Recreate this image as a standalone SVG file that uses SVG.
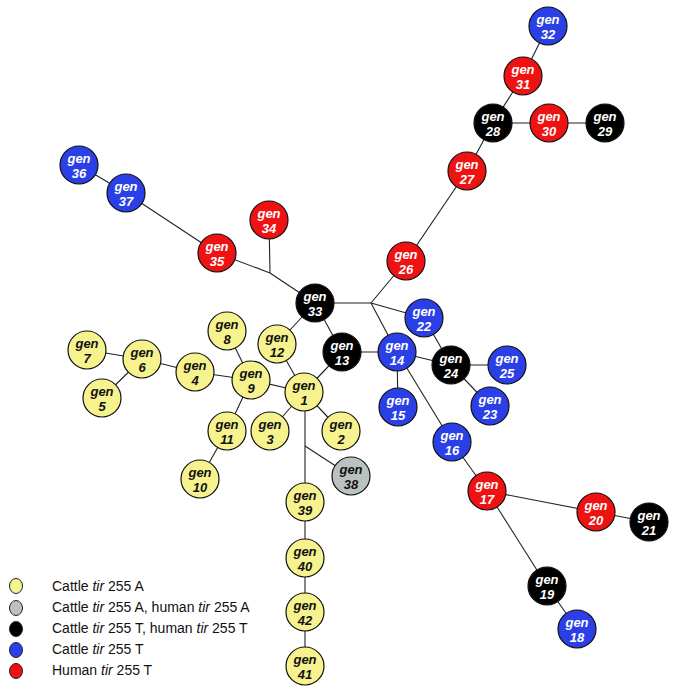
<svg xmlns="http://www.w3.org/2000/svg" width="677" height="700" viewBox="0 0 677 700">
<style>
.n circle{stroke:#111;stroke-width:1.2}
.n text{font-family:"Liberation Sans",Arial,sans-serif;font-size:13px;font-weight:bold;font-style:italic;text-anchor:middle}
.y circle{fill:#f6f28e}.y text{fill:#111}
.g circle{fill:#b9c2bf}.g text{fill:#111}
.k circle{fill:#000}.k text{fill:#fff}
.b circle{fill:#2a40e6}.b text{fill:#fff}
.r circle{fill:#ee1212}.r text{fill:#fff}
#edges line{stroke:#222;stroke-width:1.1}
.lg ellipse{stroke:#222;stroke-width:1}
.lg text{font-family:"Liberation Sans",Arial,sans-serif;font-size:14px;fill:#111}
</style>
<rect width="677" height="700" fill="#fff"/>
<g id="edges">
<line x1="548" y1="26" x2="523" y2="76"/>
<line x1="523" y1="76" x2="493" y2="123"/>
<line x1="493" y1="123" x2="549" y2="123"/>
<line x1="549" y1="123" x2="605" y2="123"/>
<line x1="493" y1="123" x2="467" y2="171"/>
<line x1="467" y1="171" x2="406" y2="261"/>
<line x1="406" y1="261" x2="371" y2="303"/>
<line x1="315" y1="303" x2="371" y2="303"/>
<line x1="371" y1="303" x2="424" y2="318"/>
<line x1="371" y1="303" x2="397" y2="352"/>
<line x1="79" y1="165" x2="126" y2="193"/>
<line x1="126" y1="193" x2="217" y2="253"/>
<line x1="217" y1="253" x2="270" y2="273"/>
<line x1="270" y1="273" x2="315" y2="303"/>
<line x1="269" y1="220" x2="270" y2="273"/>
<line x1="315" y1="303" x2="277" y2="344"/>
<line x1="315" y1="303" x2="342" y2="352"/>
<line x1="342" y1="352" x2="304" y2="392"/>
<line x1="342" y1="352" x2="397" y2="352"/>
<line x1="397" y1="352" x2="451" y2="365"/>
<line x1="424" y1="318" x2="451" y2="365"/>
<line x1="451" y1="365" x2="507" y2="365"/>
<line x1="451" y1="365" x2="490" y2="406"/>
<line x1="397" y1="352" x2="398" y2="407"/>
<line x1="397" y1="352" x2="452" y2="442"/>
<line x1="452" y1="442" x2="487" y2="491"/>
<line x1="487" y1="491" x2="596" y2="512"/>
<line x1="596" y1="512" x2="649" y2="522"/>
<line x1="487" y1="491" x2="547" y2="586"/>
<line x1="547" y1="586" x2="577" y2="629"/>
<line x1="304" y1="392" x2="277" y2="344"/>
<line x1="304" y1="392" x2="251" y2="380"/>
<line x1="304" y1="392" x2="270" y2="431"/>
<line x1="304" y1="392" x2="341" y2="431"/>
<line x1="305" y1="392" x2="305" y2="666"/>
<line x1="305" y1="446" x2="351" y2="476"/>
<line x1="251" y1="380" x2="227" y2="331"/>
<line x1="251" y1="380" x2="195" y2="372"/>
<line x1="251" y1="380" x2="227" y2="431"/>
<line x1="227" y1="431" x2="200" y2="479"/>
<line x1="195" y1="372" x2="142" y2="359"/>
<line x1="142" y1="359" x2="87" y2="350"/>
<line x1="142" y1="359" x2="102" y2="398"/>
</g>
<g id="gen32" class="n b"><circle cx="548" cy="26" r="19"/><text><tspan x="548" y="24">gen</tspan><tspan x="548" y="39">32</tspan></text></g>
<g id="gen31" class="n r"><circle cx="523" cy="76" r="19"/><text><tspan x="523" y="74">gen</tspan><tspan x="523" y="89">31</tspan></text></g>
<g id="gen28" class="n k"><circle cx="493" cy="123" r="19"/><text><tspan x="493" y="121">gen</tspan><tspan x="493" y="136">28</tspan></text></g>
<g id="gen30" class="n r"><circle cx="549" cy="123" r="19"/><text><tspan x="549" y="121">gen</tspan><tspan x="549" y="136">30</tspan></text></g>
<g id="gen29" class="n k"><circle cx="605" cy="123" r="19"/><text><tspan x="605" y="121">gen</tspan><tspan x="605" y="136">29</tspan></text></g>
<g id="gen27" class="n r"><circle cx="467" cy="171" r="19"/><text><tspan x="467" y="169">gen</tspan><tspan x="467" y="184">27</tspan></text></g>
<g id="gen26" class="n r"><circle cx="406" cy="261" r="19"/><text><tspan x="406" y="259">gen</tspan><tspan x="406" y="274">26</tspan></text></g>
<g id="gen36" class="n b"><circle cx="79" cy="165" r="19"/><text><tspan x="79" y="163">gen</tspan><tspan x="79" y="178">36</tspan></text></g>
<g id="gen37" class="n b"><circle cx="126" cy="193" r="19"/><text><tspan x="126" y="191">gen</tspan><tspan x="126" y="206">37</tspan></text></g>
<g id="gen34" class="n r"><circle cx="269" cy="220" r="19"/><text><tspan x="269" y="218">gen</tspan><tspan x="269" y="233">34</tspan></text></g>
<g id="gen35" class="n r"><circle cx="217" cy="253" r="19"/><text><tspan x="217" y="251">gen</tspan><tspan x="217" y="266">35</tspan></text></g>
<g id="gen33" class="n k"><circle cx="315" cy="303" r="19"/><text><tspan x="315" y="301">gen</tspan><tspan x="315" y="316">33</tspan></text></g>
<g id="gen22" class="n b"><circle cx="424" cy="318" r="19"/><text><tspan x="424" y="316">gen</tspan><tspan x="424" y="331">22</tspan></text></g>
<g id="gen13" class="n k"><circle cx="342" cy="352" r="19"/><text><tspan x="342" y="350">gen</tspan><tspan x="342" y="365">13</tspan></text></g>
<g id="gen14" class="n b"><circle cx="397" cy="352" r="19"/><text><tspan x="397" y="350">gen</tspan><tspan x="397" y="365">14</tspan></text></g>
<g id="gen24" class="n k"><circle cx="451" cy="365" r="19"/><text><tspan x="451" y="363">gen</tspan><tspan x="451" y="378">24</tspan></text></g>
<g id="gen25" class="n b"><circle cx="507" cy="365" r="19"/><text><tspan x="507" y="363">gen</tspan><tspan x="507" y="378">25</tspan></text></g>
<g id="gen15" class="n b"><circle cx="398" cy="407" r="19"/><text><tspan x="398" y="405">gen</tspan><tspan x="398" y="420">15</tspan></text></g>
<g id="gen23" class="n b"><circle cx="490" cy="406" r="19"/><text><tspan x="490" y="404">gen</tspan><tspan x="490" y="419">23</tspan></text></g>
<g id="gen16" class="n b"><circle cx="452" cy="442" r="19"/><text><tspan x="452" y="440">gen</tspan><tspan x="452" y="455">16</tspan></text></g>
<g id="gen17" class="n r"><circle cx="487" cy="491" r="19"/><text><tspan x="487" y="489">gen</tspan><tspan x="487" y="504">17</tspan></text></g>
<g id="gen20" class="n r"><circle cx="596" cy="512" r="19"/><text><tspan x="596" y="510">gen</tspan><tspan x="596" y="525">20</tspan></text></g>
<g id="gen21" class="n k"><circle cx="649" cy="522" r="19"/><text><tspan x="649" y="520">gen</tspan><tspan x="649" y="535">21</tspan></text></g>
<g id="gen19" class="n k"><circle cx="547" cy="586" r="19"/><text><tspan x="547" y="584">gen</tspan><tspan x="547" y="599">19</tspan></text></g>
<g id="gen18" class="n b"><circle cx="577" cy="629" r="19"/><text><tspan x="577" y="627">gen</tspan><tspan x="577" y="642">18</tspan></text></g>
<g id="gen38" class="n g"><circle cx="351" cy="476" r="19"/><text><tspan x="351" y="474">gen</tspan><tspan x="351" y="489">38</tspan></text></g>
<g id="gen1" class="n y"><circle cx="304" cy="392" r="19"/><text><tspan x="304" y="390">gen</tspan><tspan x="304" y="405">1</tspan></text></g>
<g id="gen2" class="n y"><circle cx="341" cy="431" r="19"/><text><tspan x="341" y="429">gen</tspan><tspan x="341" y="444">2</tspan></text></g>
<g id="gen3" class="n y"><circle cx="270" cy="431" r="19"/><text><tspan x="270" y="429">gen</tspan><tspan x="270" y="444">3</tspan></text></g>
<g id="gen12" class="n y"><circle cx="277" cy="344" r="19"/><text><tspan x="277" y="342">gen</tspan><tspan x="277" y="357">12</tspan></text></g>
<g id="gen8" class="n y"><circle cx="227" cy="331" r="19"/><text><tspan x="227" y="329">gen</tspan><tspan x="227" y="344">8</tspan></text></g>
<g id="gen9" class="n y"><circle cx="251" cy="380" r="19"/><text><tspan x="251" y="378">gen</tspan><tspan x="251" y="393">9</tspan></text></g>
<g id="gen4" class="n y"><circle cx="195" cy="372" r="19"/><text><tspan x="195" y="370">gen</tspan><tspan x="195" y="385">4</tspan></text></g>
<g id="gen6" class="n y"><circle cx="142" cy="359" r="19"/><text><tspan x="142" y="357">gen</tspan><tspan x="142" y="372">6</tspan></text></g>
<g id="gen7" class="n y"><circle cx="87" cy="350" r="19"/><text><tspan x="87" y="348">gen</tspan><tspan x="87" y="363">7</tspan></text></g>
<g id="gen5" class="n y"><circle cx="102" cy="398" r="19"/><text><tspan x="102" y="396">gen</tspan><tspan x="102" y="411">5</tspan></text></g>
<g id="gen11" class="n y"><circle cx="227" cy="431" r="19"/><text><tspan x="227" y="429">gen</tspan><tspan x="227" y="444">11</tspan></text></g>
<g id="gen10" class="n y"><circle cx="200" cy="479" r="19"/><text><tspan x="200" y="477">gen</tspan><tspan x="200" y="492">10</tspan></text></g>
<g id="gen39" class="n y"><circle cx="305" cy="502" r="19"/><text><tspan x="305" y="500">gen</tspan><tspan x="305" y="515">39</tspan></text></g>
<g id="gen40" class="n y"><circle cx="305" cy="558" r="19"/><text><tspan x="305" y="556">gen</tspan><tspan x="305" y="571">40</tspan></text></g>
<g id="gen42" class="n y"><circle cx="305" cy="612" r="19"/><text><tspan x="305" y="610">gen</tspan><tspan x="305" y="625">42</tspan></text></g>
<g id="gen41" class="n y"><circle cx="305" cy="666" r="19"/><text><tspan x="305" y="664">gen</tspan><tspan x="305" y="679">41</tspan></text></g>
<g id="legend" class="lg">
<ellipse cx="16" cy="586" rx="6.5" ry="7.5" fill="#f6f28e"/>
<text x="52" y="591">Cattle <tspan font-style="italic">tir</tspan> 255 A</text>
<ellipse cx="16" cy="608" rx="6.5" ry="7.5" fill="#b9c2bf"/>
<text x="52" y="612">Cattle <tspan font-style="italic">tir</tspan> 255 A, human <tspan font-style="italic">tir</tspan> 255 A</text>
<ellipse cx="16" cy="629" rx="6.5" ry="7.5" fill="#000"/>
<text x="52" y="633">Cattle <tspan font-style="italic">tir</tspan> 255 T, human <tspan font-style="italic">tir</tspan> 255 T</text>
<ellipse cx="16" cy="650" rx="6.5" ry="7.5" fill="#2a40e6"/>
<text x="52" y="654">Cattle <tspan font-style="italic">tir</tspan> 255 T</text>
<ellipse cx="16" cy="671" rx="6.5" ry="7.5" fill="#ee1212"/>
<text x="52" y="675">Human <tspan font-style="italic">tir</tspan> 255 T</text>
</g>
</svg>
